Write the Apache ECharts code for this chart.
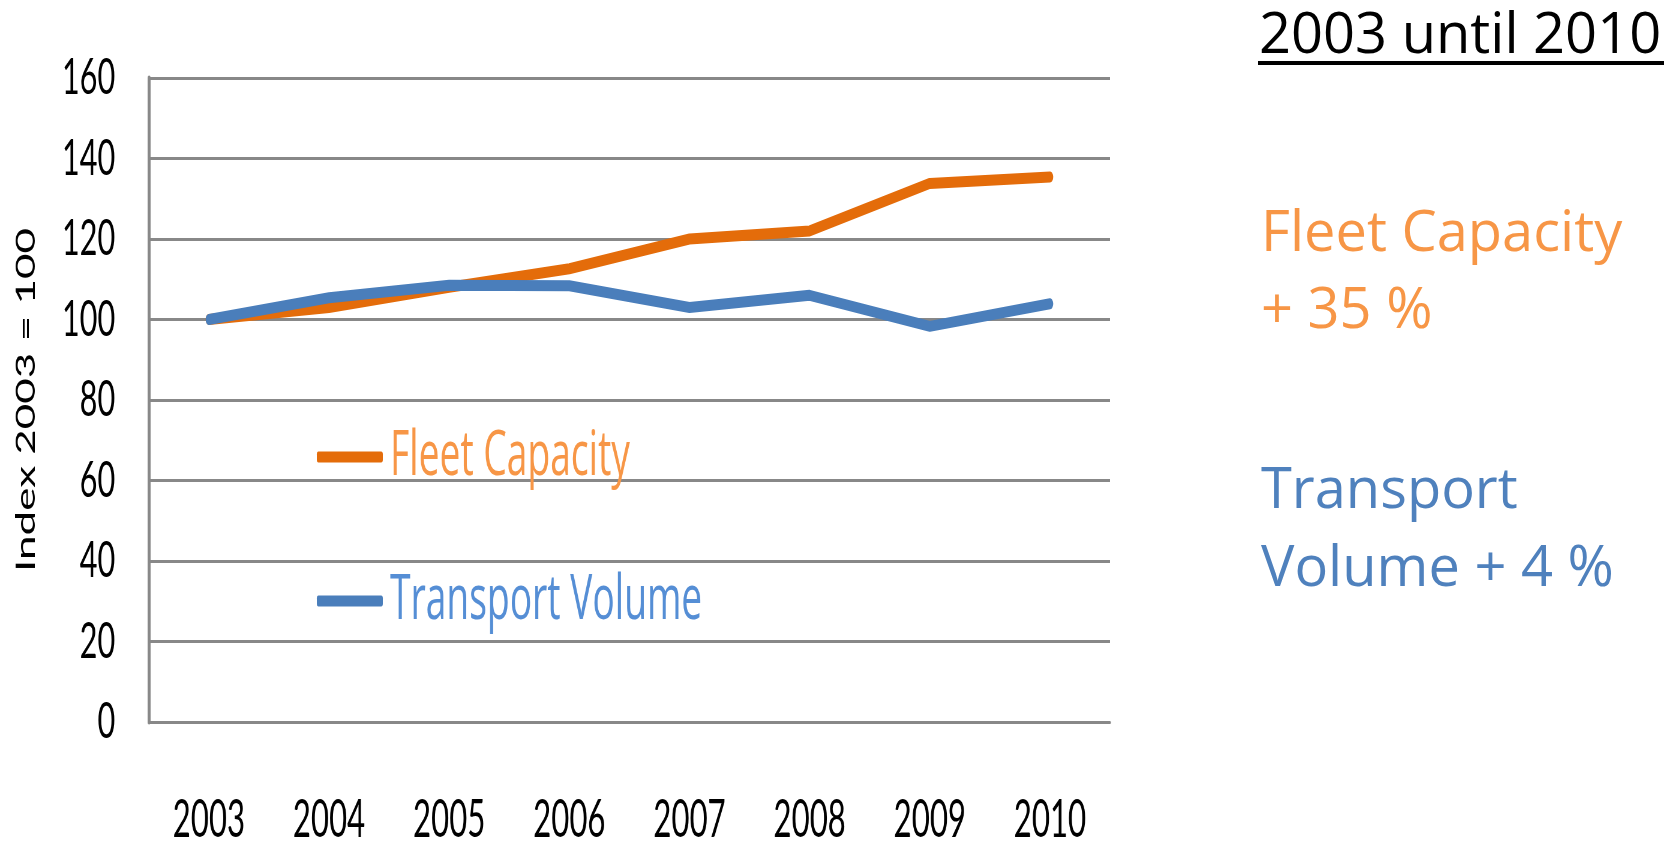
<!DOCTYPE html>
<html>
<head>
<meta charset="utf-8">
<script src="https://cdn.jsdelivr.net/npm/echarts@6/dist/echarts.min.js"></script>
<style>
    html, body { margin: 0; padding: 0; background: #fff; }
    /* the chart in the picture is squeezed sideways, so draw it wide and squeeze it */
    #main {
        position: absolute; left: 0; top: 0;
        width: 1917px; height: 841px;
        transform: scaleX(0.6); transform-origin: 0 0;
    }
    #notes {
        position: absolute; left: 1240px; top: 0;
        width: 437px; height: 841px;
    }
</style>
</head>
<body>
<div id="main"></div>
<div id="notes"></div>
<script type="text/javascript">

    // data
    const years = ['2003', '2004', '2005', '2006', '2007', '2008', '2009', '2010'];
    const fleetCapacity = [100, 103, 108, 112.6, 120, 122, 133.8, 135.4];
    const transportVolume = [100, 105.4, 108.5, 108.4, 103, 106, 98.3, 103.9];
    const seriesNames = ['Fleet Capacity', 'Transport Volume'];
    const yMin = 0, yMax = 160, yStep = 20;

    const lineColors = ['#E46C0A', '#4A7EBB'];
    const legendColors = ['#F79646', '#558ED5'];

    // 基于准备好的dom，初始化echarts实例
    let myChart = echarts.init(document.getElementById('main'));

    let option = {
        animation: false,
        grid: {
            left: 248,
            right: 67,
            top: 78,
            bottom: 119,
            outerBoundsMode: 'none'
        },
        legend: {
            orient: 'vertical',
            left: 528,
            top: 422,
            padding: 0,
            itemWidth: 110,
            itemHeight: 11,
            itemGap: 74,
            icon: 'roundRect',
            textStyle: {
                fontFamily: 'Open Sans',
                fontSize: 62,
                lineHeight: 70,
                padding: [0, 0, 0, 7]
            },
            data: [
                {name: seriesNames[0], textStyle: {color: legendColors[0]}},
                {name: seriesNames[1], textStyle: {color: legendColors[1]}}
            ]
        },
        xAxis: {
            type: 'category',
            boundaryGap: true,
            data: years,
            axisLine: {lineStyle: {color: '#888888', width: 3}},
            axisTick: {show: false},
            axisLabel: {
                margin: 72,
                color: '#000',
                fontFamily: 'Lato',
                fontSize: 52
            }
        },
        yAxis: {
            type: 'value',
            min: yMin,
            max: yMax,
            interval: yStep,
            name: 'Index 2003 = 100',
            nameLocation: 'middle',
            nameGap: 182,
            nameTextStyle: {
                color: '#000',
                fontFamily: 'Lato',
                fontSize: 44
            },
            axisLine: {show: true, lineStyle: {color: '#888888', width: 5}},
            axisTick: {show: false},
            splitLine: {lineStyle: {color: '#888888', width: 3}},
            axisLabel: {
                margin: 56,
                color: '#000',
                fontFamily: 'Lato',
                fontSize: 51
            }
        },
        series: [
            {
                name: seriesNames[0],
                type: 'line',
                data: fleetCapacity,
                symbol: 'none',
                color: lineColors[0],
                lineStyle: {width: 11, cap: 'round', join: 'round'},
                z: 2
            },
            {
                name: seriesNames[1],
                type: 'line',
                data: transportVolume,
                symbol: 'none',
                color: lineColors[1],
                lineStyle: {width: 11, cap: 'round', join: 'round'},
                z: 3
            }
        ]
    };
    myChart.setOption(option);

    // notes on the right side
    let notesChart = echarts.init(document.getElementById('notes'));
    const noteFont = '"Open Sans"';
    notesChart.setOption({
        animation: false,
        graphic: [
            {type: 'text', x: 19, y: 37, style: {text: '2003 until 2010', fill: '#000', font: '56px ' + noteFont, verticalAlign: 'middle'}},
            {type: 'rect', shape: {x: 18, y: 61, width: 406, height: 4}, style: {fill: '#000'}},
            {type: 'text', x: 21, y: 235, style: {text: 'Fleet Capacity', fill: '#F79646', font: '56px ' + noteFont, verticalAlign: 'middle'}},
            {type: 'text', x: 21, y: 312, style: {text: '+ 35 %', fill: '#F79646', font: '56px ' + noteFont, verticalAlign: 'middle'}},
            {type: 'text', x: 21, y: 492, style: {text: 'Transport', fill: '#4F81BD', font: '56px ' + noteFont, verticalAlign: 'middle'}},
            {type: 'text', x: 21, y: 570, style: {text: 'Volume + 4 %', fill: '#4F81BD', font: '56px ' + noteFont, verticalAlign: 'middle'}}
        ]
    });

</script>
</body>
</html>
